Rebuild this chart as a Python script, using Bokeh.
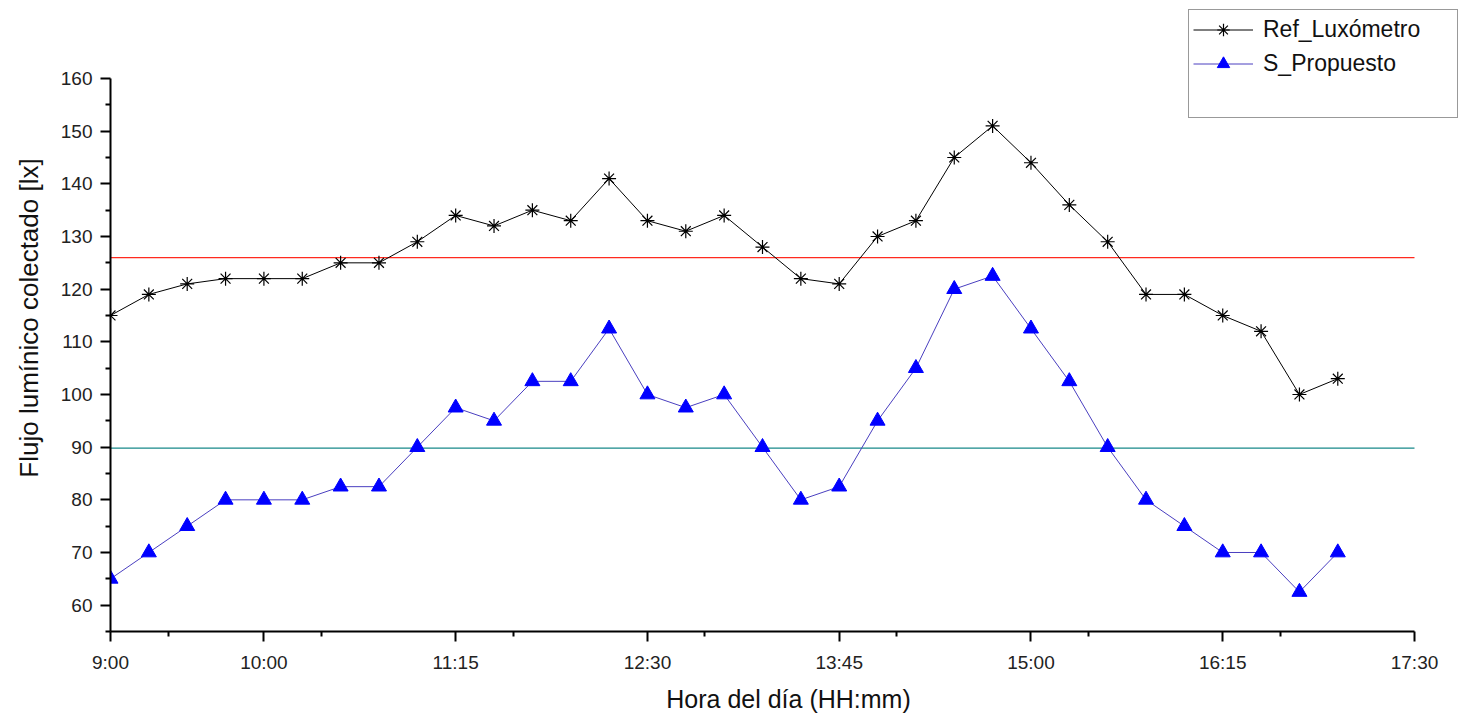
from bokeh.plotting import figure
from bokeh.models import Range1d, FixedTicker, Legend, LegendItem
from bokeh.embed import file_html
from bokeh.resources import INLINE

times = ["9:00", "9:15", "9:30", "9:45", "10:00", "10:15", "10:30", "10:45",
         "11:00", "11:15", "11:30", "11:45", "12:00", "12:15", "12:30", "12:45",
         "13:00", "13:15", "13:30", "13:45", "14:00", "14:15", "14:30", "14:45",
         "15:00", "15:15", "15:30", "15:45", "16:00", "16:15", "16:30", "16:45", "17:00"]
ref_luxometro = [115, 119, 121, 122, 122, 122, 125, 125, 129, 134, 132, 135, 133, 141, 133, 131,
                 134, 128, 122, 121, 130, 133, 145, 151, 144, 136, 129, 119, 119, 115, 112, 100, 103]
s_propuesto = [65, 70, 75, 80, 80, 80, 82.5, 82.5, 90, 97.5, 95, 102.5, 102.5, 112.5, 100, 97.5,
               100, 90, 80, 82.5, 95, 105, 120, 122.5, 112.5, 102.5, 90, 80, 75, 70, 70, 62.5, 70]
ref_level = 126
prop_level = 89.8
x_tick_labels = ["9:00", "10:00", "11:15", "12:30", "13:45", "15:00", "16:15", "17:30"]
y_tick_values = [60, 70, 80, 90, 100, 110, 120, 130, 140, 150, 160]


def to_hours(t):
    h, m = t.split(":")
    return int(h) + int(m) / 60.0


x = [to_hours(t) for t in times]
x_ticks = [to_hours(t) for t in x_tick_labels]
x_start, x_end = x_ticks[0], x_ticks[-1]
y_start, y_end = 55, 160

FONT = "Liberation Sans"

# frame is extended past the axes' ends so the legend (outside the axes box) is not clipped
p = figure(width=1468, height=717, output_backend="svg", toolbar_location=None,
           x_range=Range1d(x_start, 17.839), y_range=Range1d(y_start, 174.05),
           min_border_left=110, min_border_right=2, min_border_top=4, min_border_bottom=86)
p.outline_line_color = None
p.xgrid.visible = False
p.ygrid.visible = False

minor_x = [t + 0.375 for t in x_ticks[:-1]]
p.xaxis.ticker = FixedTicker(ticks=x_ticks, minor_ticks=minor_x)
p.xaxis.major_label_overrides = {t: lbl for t, lbl in zip(x_ticks, x_tick_labels)}
p.xaxis.bounds = (x_start, x_end)
p.yaxis.ticker = FixedTicker(ticks=y_tick_values, minor_ticks=[v - 5 for v in y_tick_values])
p.yaxis.bounds = (y_start, y_end)

for ax in (p.xaxis[0], p.yaxis[0]):
    ax.axis_line_width = 2
    ax.major_tick_line_width = 2
    ax.minor_tick_line_width = 2
    ax.major_tick_out = 10
    ax.major_tick_in = 0
    ax.minor_tick_out = 5
    ax.minor_tick_in = 0
    ax.major_label_text_font = FONT
    ax.major_label_text_font_size = "19px"
    ax.major_label_text_color = "#222222"
    ax.axis_label_text_font = FONT
    ax.axis_label_text_font_style = "normal"
    ax.axis_label_text_color = "#111111"

p.xaxis.axis_label = "Hora del día (HH:mm)"
p.yaxis.axis_label = "Flujo lumínico colectado [lx]"
p.xaxis.axis_label_text_font_size = "25px"
p.yaxis.axis_label_text_font_size = "26px"
p.xaxis.major_label_standoff = 10
p.xaxis.axis_label_standoff = 9
p.yaxis.major_label_standoff = 8
p.yaxis.axis_label_standoff = 14

p.line([x_start, x_end], [ref_level, ref_level], line_color="#ff2a1f", line_width=1.3)
p.line([x_start, x_end], [prop_level, prop_level], line_color="#17898a", line_width=1.3)

l1 = p.line(x, ref_luxometro, line_color="black", line_width=1)
m1 = p.scatter(x, ref_luxometro, marker="asterisk", size=14, line_color="black", line_width=1.2)
l2 = p.line(x, s_propuesto, line_color="#4a3fc0", line_width=1)
m2 = p.scatter(x, s_propuesto, marker="triangle", size=15, fill_color="#0000ff",
               line_color="#0000ff")
blank = p.scatter([x_start], [100], marker="circle", size=1, alpha=0)

legend = Legend(items=[LegendItem(label="Ref_Luxómetro", renderers=[l1, m1]),
                       LegendItem(label="S_Propuesto", renderers=[l2, m2]),
                       LegendItem(label=" ", renderers=[blank])],
                location=(1078, 513), orientation="vertical")
legend.label_text_font = FONT
legend.label_text_font_size = "23px"
legend.label_text_color = "#111111"
legend.glyph_width = 60
legend.glyph_height = 31
legend.label_height = 31
legend.label_width = 190
legend.spacing = 3
legend.padding = 4
legend.margin = 0
legend.label_standoff = 10
legend.border_line_color = "#333333"
legend.border_line_width = 1
legend.background_fill_alpha = 1
legend.click_policy = "none"
p.add_layout(legend, "center")

open("out.html", "w").write(file_html(p, INLINE))
